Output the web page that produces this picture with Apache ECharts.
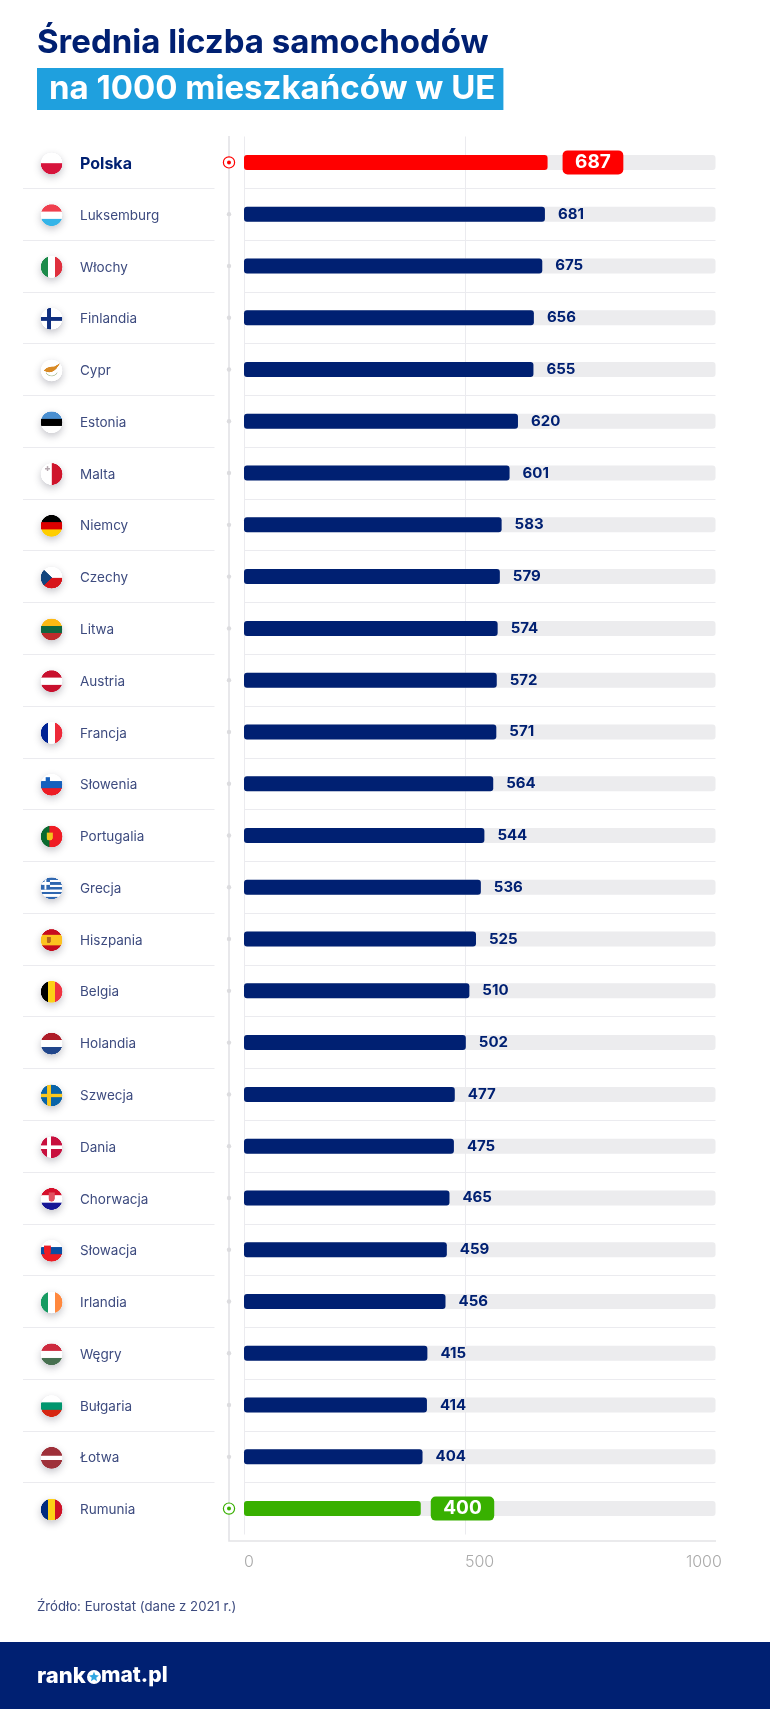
<!DOCTYPE html>
<html>
<head>
<meta charset="utf-8">
<title>Średnia liczba samochodów</title>
<style>
  html, body { margin: 0; padding: 0; background: #fff; }
  #chart { width: 770px; height: 1709px; }
</style>
<script src="https://cdn.jsdelivr.net/npm/echarts@6/dist/echarts.min.js"></script>
</head>
<body>
<div id="chart"></div>
<script>
var categories = ['Polska', 'Luksemburg', 'Włochy', 'Finlandia', 'Cypr', 'Estonia', 'Malta', 'Niemcy', 'Czechy',
  'Litwa', 'Austria', 'Francja', 'Słowenia', 'Portugalia', 'Grecja', 'Hiszpania', 'Belgia', 'Holandia',
  'Szwecja', 'Dania', 'Chorwacja', 'Słowacja', 'Irlandia', 'Węgry', 'Bułgaria', 'Łotwa', 'Rumunia'];
var values = [687, 681, 675, 656, 655, 620, 601, 583, 579, 574, 572, 571, 564, 544, 536, 525, 510, 502,
  477, 475, 465, 459, 456, 415, 414, 404, 400];
var tickLabels = [0, 500, 1000];
var gridValues = [0, 500];

var titleLines = ['Średnia liczba samochodów', 'na 1000 mieszkańców w UE'];
var sourceText = 'Źródło: Eurostat (dane z 2021 r.)';

var NAVY = '#002072';
var TEXT = '#3d4b7f';
var RED = '#ff0000';
var GREEN = '#38b000';
var LINE = '#ebebef';
var FONT = 'Inter, "Noto Sans", sans-serif';

// rysowanie flag na malym canvasie
function hBands(colors, weights) {
  return function (c, s) {
    var w = weights || colors.map(function () { return 1; });
    var sum = w.reduce(function (a, b) { return a + b; }, 0);
    var y = 0;
    colors.forEach(function (col, i) {
      c.fillStyle = col;
      c.fillRect(0, y, s, s * w[i] / sum + 1);
      y += s * w[i] / sum;
    });
  };
}
function vBands(colors, weights) {
  return function (c, s) {
    var w = weights || colors.map(function () { return 1; });
    var sum = w.reduce(function (a, b) { return a + b; }, 0);
    var x = 0;
    colors.forEach(function (col, i) {
      c.fillStyle = col;
      c.fillRect(x, 0, s * w[i] / sum + 1, s);
      x += s * w[i] / sum;
    });
  };
}
function nordic(bg, cross) {
  return function (c, s) {
    c.fillStyle = bg;
    c.fillRect(0, 0, s, s);
    c.fillStyle = cross;
    c.fillRect(s * 0.3, 0, s * 0.17, s);
    c.fillRect(0, s * 0.42, s, s * 0.17);
  };
}
function crest(base, color, x, y, w, h) {
  return function (c, s) {
    base(c, s);
    c.fillStyle = color;
    c.beginPath();
    c.moveTo(s * x, s * y);
    c.lineTo(s * (x + w), s * y);
    c.lineTo(s * (x + w), s * (y + h * 0.65));
    c.quadraticCurveTo(s * (x + w), s * (y + h), s * (x + w / 2), s * (y + h));
    c.quadraticCurveTo(s * x, s * (y + h), s * x, s * (y + h * 0.65));
    c.closePath();
    c.fill();
  };
}
var flagPainters = {
  'Polska': hBands(['#ffffff', '#d7143c']),
  'Luksemburg': hBands(['#ef3f4e', '#ffffff', '#34b4e8']),
  'Włochy': vBands(['#1c8a4a', '#ffffff', '#df2f3d']),
  'Finlandia': nordic('#ffffff', '#0f2f7f'),
  'Cypr': function (c, s) {
    c.fillStyle = '#ffffff';
    c.fillRect(0, 0, s, s);
    c.fillStyle = '#d98a25';
    c.beginPath();
    c.moveTo(s * 0.14, s * 0.5);
    c.quadraticCurveTo(s * 0.3, s * 0.3, s * 0.62, s * 0.32);
    c.lineTo(s * 0.9, s * 0.16);
    c.lineTo(s * 0.72, s * 0.42);
    c.quadraticCurveTo(s * 0.45, s * 0.7, s * 0.14, s * 0.5);
    c.fill();
    c.strokeStyle = '#b9c9a8';
    c.lineWidth = s * 0.04;
    c.beginPath();
    c.arc(s * 0.5, s * 0.45, s * 0.3, 0.5, 2.6);
    c.stroke();
  },
  'Estonia': hBands(['#4a8fd0', '#000000', '#ffffff']),
  'Malta': function (c, s) {
    vBands(['#ffffff', '#cf142b'])(c, s);
    c.fillStyle = '#b4a6ad';
    c.fillRect(s * 0.2, s * 0.21, s * 0.22, s * 0.08);
    c.fillRect(s * 0.27, s * 0.14, s * 0.08, s * 0.22);
  },
  'Niemcy': hBands(['#000000', '#dd0000', '#ffce00']),
  'Czechy': function (c, s) {
    hBands(['#ffffff', '#d7141a'])(c, s);
    c.fillStyle = '#11457e';
    c.beginPath();
    c.moveTo(0, 0);
    c.lineTo(s * 0.52, s * 0.5);
    c.lineTo(0, s);
    c.fill();
  },
  'Litwa': hBands(['#fdb913', '#11663f', '#bf2c2c']),
  'Austria': hBands(['#c8102e', '#ffffff', '#c8102e']),
  'Francja': vBands(['#002395', '#ffffff', '#ed2939']),
  'Słowenia': crest(hBands(['#ffffff', '#1560bd', '#ed1c24']), '#1560bd', 0.22, 0.16, 0.2, 0.26),
  'Portugalia': crest(vBands(['#0a6a2f', '#ef1c24'], [2, 3]), '#f3c41b', 0.27, 0.32, 0.28, 0.36),
  'Grecja': function (c, s) {
    var i;
    c.fillStyle = '#ffffff';
    c.fillRect(0, 0, s, s);
    c.fillStyle = '#2f67b0';
    for (i = 0; i < 5; i++) c.fillRect(0, s * i * 2 / 9, s, s / 9);
    c.fillRect(0, 0, s * 0.42, s * 5 / 9);
    c.fillStyle = '#ffffff';
    c.fillRect(s * 0.17, 0, s * 0.09, s * 5 / 9);
    c.fillRect(0, s * 2 / 9, s * 0.42, s / 9);
  },
  'Hiszpania': crest(hBands(['#c60b1e', '#fcc21f', '#c60b1e'], [1, 2, 1]), '#b5651d', 0.28, 0.36, 0.18, 0.28),
  'Belgia': vBands(['#000000', '#fcd116', '#ef3340']),
  'Holandia': hBands(['#ae1c28', '#ffffff', '#21468b']),
  'Szwecja': nordic('#0a64a8', '#fcc81e'),
  'Dania': nordic('#c8103e', '#ffffff'),
  'Chorwacja': crest(hBands(['#d6102b', '#ffffff', '#171796']), '#e2505f', 0.36, 0.2, 0.28, 0.42),
  'Słowacja': crest(hBands(['#ffffff', '#0b4ea2', '#ee1c25']), '#ee1c25', 0.16, 0.26, 0.3, 0.46),
  'Irlandia': vBands(['#169b62', '#ffffff', '#ff883e']),
  'Węgry': hBands(['#cd2a3e', '#ffffff', '#477050']),
  'Bułgaria': hBands(['#ffffff', '#00966e', '#d62612']),
  'Łotwa': hBands(['#9e3039', '#ffffff', '#9e3039'], [2, 1, 2]),
  'Rumunia': vBands(['#002b7f', '#fcd116', '#ce1126'])
};

var FLAG_BOX = 44;
var FLAG_R = 10.8;
var flagCache = {};

function getFlag(name) {
  if (flagCache[name]) return flagCache[name];
  var scale = 3;
  var canvas = document.createElement('canvas');
  canvas.width = canvas.height = FLAG_BOX * scale;
  var c = canvas.getContext('2d');
  var mid = FLAG_BOX * scale / 2;
  var r = FLAG_R * scale;
  // cien pod flaga
  c.save();
  c.shadowColor = 'rgba(40,40,60,0.28)';
  c.shadowBlur = 8 * scale;
  c.shadowOffsetY = 3 * scale;
  c.fillStyle = '#fff';
  c.beginPath();
  c.arc(mid, mid, r, 0, Math.PI * 2);
  c.fill();
  c.restore();
  c.save();
  c.beginPath();
  c.arc(mid, mid, r, 0, Math.PI * 2);
  c.clip();
  c.translate(mid - r, mid - r);
  flagPainters[name](c, r * 2);
  c.restore();
  flagCache[name] = canvas;
  return canvas;
}

function renderFlag(params, api) {
  var pos = api.coord([0, api.value(1)]);
  return {
    type: 'image',
    style: {
      image: getFlag(categories[params.dataIndex]),
      x: pos[0] + 28.6 - FLAG_BOX / 2,
      y: pos[1] + 1 - FLAG_BOX / 2,
      width: FLAG_BOX,
      height: FLAG_BOX
    }
  };
}

// kropki na lewej osi, pierwszy i ostatni wiersz to kolko z punktem
function renderMarker(params, api) {
  var pos = api.coord([0, api.value(1)]);
  var x = pos[0] - 15;
  var color = { 0: RED, 26: GREEN }[params.dataIndex];
  if (!color) {
    return { type: 'circle', shape: { cx: x, cy: pos[1], r: 2.2 }, style: { fill: '#dcdcdf' } };
  }
  return {
    type: 'group',
    children: [
      { type: 'circle', shape: { cx: x, cy: pos[1], r: 5.6 }, style: { fill: '#fff', stroke: color, lineWidth: 1.2 } },
      { type: 'circle', shape: { cx: x, cy: pos[1], r: 2 }, style: { fill: color } }
    ]
  };
}

function barItem(value, index) {
  var color = { 0: RED, 26: GREEN }[index];
  if (!color) return value;
  return {
    value: value,
    itemStyle: { color: color },
    label: {
      distance: index === 0 ? 15 : 10,
      color: '#fff',
      fontSize: 19,
      backgroundColor: color,
      borderRadius: 5,
      padding: [3, 12.5, 2, 12.5]
    }
  };
}

// gwiazdka w logo
function starPoints(cx, cy, r) {
  var pts = [];
  for (var i = 0; i < 10; i++) {
    var a = -Math.PI / 2 + i * Math.PI / 5;
    var d = i % 2 ? r * 0.45 : r;
    pts.push([cx + Math.cos(a) * d, cy + Math.sin(a) * d]);
  }
  return pts;
}

var rowPoints = categories.map(function (c, i) { return [0, i]; });

var chartOpt = {
  backgroundColor: '#fff',
  animation: false,
  textStyle: { fontFamily: FONT },
  title: [
    {
      text: titleLines[0], left: 37, top: 27,
      padding: 0,
      textStyle: { fontFamily: FONT, fontSize: 33, fontWeight: 700, color: NAVY }
    },
    {
      text: titleLines[1], left: 37, top: 68,
      backgroundColor: '#1fa0de', padding: [5, 8, 4, 12],
      textStyle: { fontFamily: FONT, fontSize: 33, fontWeight: 700, color: '#fff' }
    },
    {
      text: sourceText, left: 37, top: 1601,
      padding: 0,
      textStyle: { fontFamily: FONT, fontSize: 13.2, fontWeight: 400, color: TEXT }
    }
  ],
  grid: [
    { left: 244, top: 136.5, width: 471.5, height: 1398 },
    { left: 23, top: 136.5, width: 191.5, height: 1398 }
  ],
  xAxis: [
    {
      type: 'value', gridIndex: 0, min: 0, max: 1067,
      axisLine: { show: false },
      axisTick: { show: false, customValues: gridValues },
      splitLine: { show: true, lineStyle: { color: LINE, width: 1 } },
      axisLabel: {
        customValues: tickLabels, align: 'left', margin: 20,
        color: '#ababab', fontSize: 16, fontWeight: 300, fontFamily: FONT,
        formatter: function (v) { return String(v); }
      }
    },
    { type: 'value', gridIndex: 1, min: 0, max: 1, show: false }
  ],
  yAxis: [
    {
      type: 'category', gridIndex: 0, inverse: true, data: categories,
      axisLine: { show: false },
      axisTick: { show: false },
      axisLabel: { show: false },
      splitLine: { show: true, showMinLine: false, showMaxLine: false, lineStyle: { color: LINE, width: 1 } }
    },
    {
      type: 'category', gridIndex: 1, inverse: true, data: categories,
      axisLine: { show: false },
      axisTick: { show: false },
      splitLine: { show: true, showMinLine: false, showMaxLine: false, lineStyle: { color: LINE, width: 1 } },
      axisLabel: {
        inside: true, margin: 57, color: TEXT, fontSize: 13.5, fontFamily: FONT,
        padding: [3, 0, 0, 0],
        formatter: function (name) {
          return name === categories[0] ? '{top|' + name + '}' : name;
        },
        rich: { top: { color: NAVY, fontSize: 16, fontWeight: 700, fontFamily: FONT } }
      }
    }
  ],
  graphic: [
    // rama wykresu
    {
      type: 'polyline', silent: true, z: 1,
      shape: { points: [[229, 136], [229, 1541], [716, 1541]] },
      style: { stroke: '#e3e3e6', lineWidth: 1.6, fill: null }
    },
    // stopka
    { type: 'rect', silent: true, z: 0, shape: { x: 0, y: 1642, width: 770, height: 67 }, style: { fill: NAVY } },
    {
      type: 'text', z: 5, x: 37, y: 1676,
      style: { text: 'rank', fill: '#fff', font: '800 22px ' + FONT, verticalAlign: 'middle' }
    },
    { type: 'circle', z: 5, shape: { cx: 94, cy: 1677, r: 7 }, style: { fill: '#fff' } },
    { type: 'polygon', z: 5, shape: { points: starPoints(94, 1677, 5.2) }, style: { fill: '#2fa6e2' } },
    {
      type: 'text', z: 5, x: 101, y: 1676,
      style: { text: 'mat.pl', fill: '#fff', font: '800 21px ' + FONT, verticalAlign: 'middle' }
    }
  ],
  series: [
    {
      name: 'Samochody na 1000 mieszkańców',
      type: 'bar',
      xAxisIndex: 0,
      yAxisIndex: 0,
      barWidth: 15,
      z: 3,
      showBackground: true,
      backgroundStyle: { color: '#ececee', borderRadius: 3 },
      itemStyle: { color: NAVY, borderRadius: 3 },
      label: {
        show: true, position: 'right', distance: 13,
        color: NAVY, fontSize: 15, fontWeight: 700, fontFamily: FONT,
        padding: [2, 0, 0, 0]
      },
      data: values.map(barItem)
    },
    {
      type: 'custom', xAxisIndex: 0, yAxisIndex: 0, z: 4, silent: true,
      renderItem: renderMarker, data: rowPoints
    },
    {
      type: 'custom', xAxisIndex: 1, yAxisIndex: 1, z: 4, silent: true,
      renderItem: renderFlag, data: rowPoints
    }
  ]
};

var chart = echarts.init(document.getElementById('chart'), null, { renderer: 'canvas' });
chart.setOption(chartOpt);
</script>
</body>
</html>
